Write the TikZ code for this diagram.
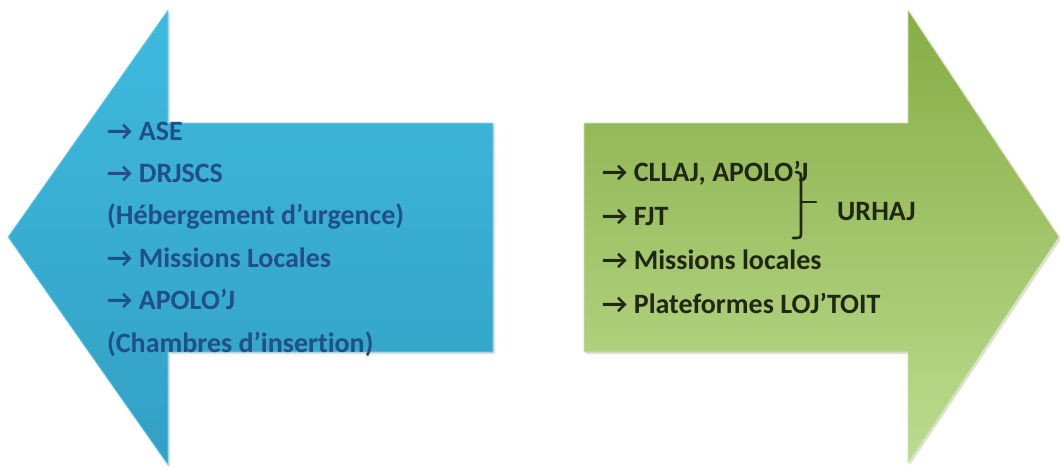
\documentclass[tikz,border=0pt]{standalone}
\usepackage{fontspec}
\setmainfont[Ligatures=NoCommon]{Carlito}
\usepackage{tikz}
\usetikzlibrary{shadows}
\definecolor{bluetop}{RGB}{62,186,222}
\definecolor{bluebot}{RGB}{50,160,196}
\definecolor{blueedge}{RGB}{125,212,236}
\definecolor{navytext}{RGB}{33,79,137}
\definecolor{greentop}{RGB}{136,172,70}
\definecolor{greenbot}{RGB}{188,220,142}
\definecolor{greenedge}{RGB}{205,232,158}
\definecolor{darktext}{RGB}{30,40,20}
\newcommand{\ra}{→\ }

\tikzset{
  bigarrow/.style={line width=0.8pt, drop shadow={opacity=0.25, shadow xshift=2pt, shadow yshift=-2pt}},
  listline/.style={anchor=base west, inner sep=0pt, font=\fontsize{28}{34}\selectfont\bfseries},
}

\begin{document}
\begin{tikzpicture}[x=1pt, y=-1pt]
  \useasboundingbox (0,0) rectangle (1060,467);

  % arrow pointing left
  \path[bigarrow, draw=blueedge, top color=bluetop, bottom color=bluebot]
    (8,237) -- (168,10) -- (168,123) -- (493,123) -- (493,352) -- (168,352) -- (168,465) -- cycle;
  % arrow pointing right
  \path[bigarrow, draw=greenedge, top color=greentop, bottom color=greenbot]
    (584,123) -- (908,123) -- (908,10) -- (1059,237) -- (908,463) -- (908,352) -- (584,352) -- cycle;

  \foreach \i/\t in {1/{\ra ASE}, 2/{\ra DRJSCS}, 3/{(Hébergement d’urgence)},
                     4/{\ra Missions Locales}, 5/{\ra APOLO’J}, 6/{(Chambres d’insertion)}}
    \node[listline, text=navytext] (left\i) at (107, {140+42.4*(\i-1)}) {\t};

  \foreach \i/\t in {1/{\ra CLLAJ, APOLO’J}, 2/{\ra FJT}, 3/{\ra Missions locales},
                     4/{\ra Plateformes LOJ’TOIT}}
    \node[listline, text=darktext] (right\i) at (602, {181+44*(\i-1)}) {\t};

  \node[listline, text=darktext] (urhaj) at (837,220) {URHAJ};

  % brace
  \draw[darktext, line width=2.6pt, line cap=round]
    (796,172) .. controls (801,173) .. (801,180) -- (801,232)
    .. controls (801,238) .. (793,238);
  \draw[darktext, line width=2.6pt, line cap=round] (801,202) -- (816,202);
\end{tikzpicture}
\end{document}
